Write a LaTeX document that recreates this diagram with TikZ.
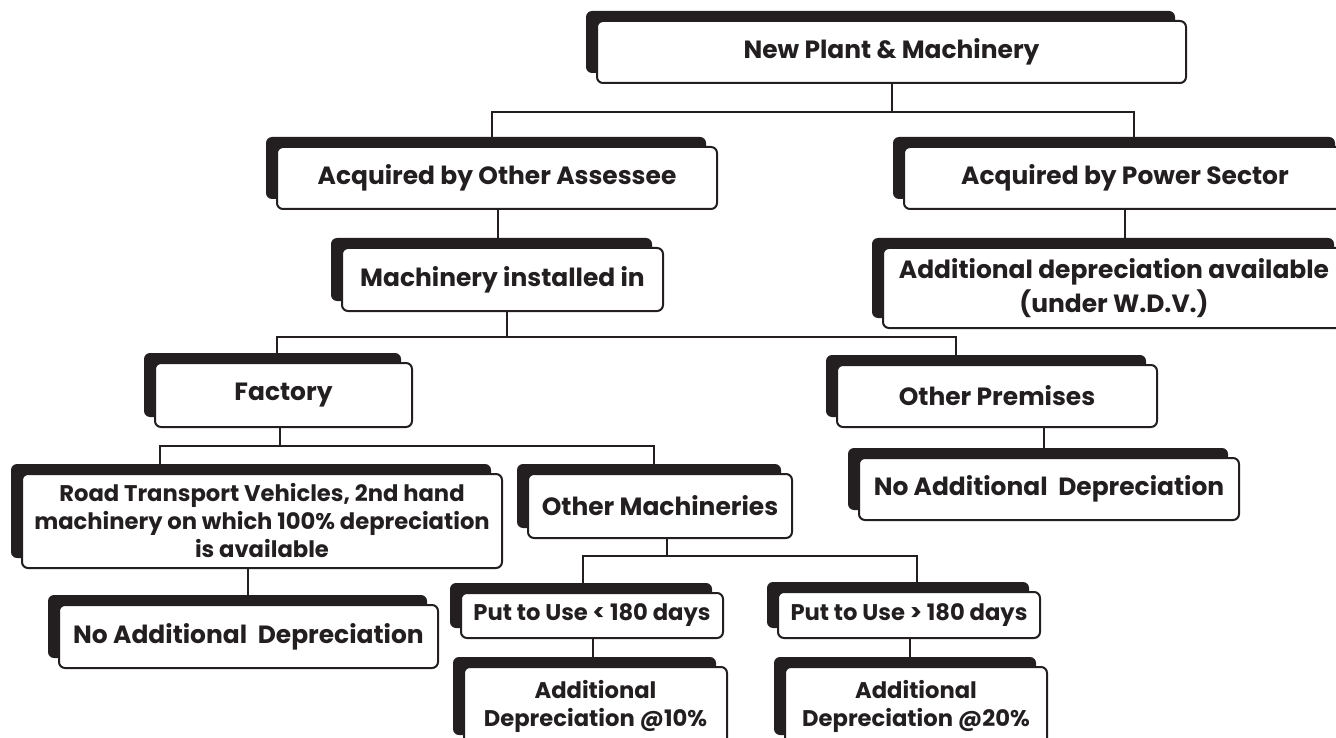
\documentclass[tikz,border=0pt]{standalone}
\usepackage{fontspec}
\setmainfont{Poppins}
\usetikzlibrary{shadows,calc}
\definecolor{ink}{HTML}{231F20}
\tikzset{
  box/.style={draw=ink, fill=white, line width=1.5pt, rounded corners=4.5pt,
    inner sep=0pt, align=center, text=ink,
    font=\bfseries\fontsize{18.7}{26}\selectfont,
    drop shadow={opacity=1, fill=ink, shadow xshift=-8.25pt, shadow yshift=7.5pt}},
  smallbox/.style={box, font=\bfseries\fontsize{17}{21}\selectfont},
  sz/.style 2 args={minimum width=#1*0.75pt, minimum height=#2*0.75pt},
  link/.style={draw=ink, line width=1.5pt}
}
\begin{document}
\begin{tikzpicture}[x=0.75pt,y=-0.75pt]
\useasboundingbox (0,0) rectangle (1336,738);

% boxes
\node[box, sz={589}{62}] (b1) at (891.5,52) {New Plant \& Machinery};
\node[box, sz={440}{62}] (b2) at (497,178) {Acquired by Other Assessee};
\node[box, sz={442}{62}] (b3) at (1125,178) {Acquired by Power Sector};
\node[box, sz={321}{63}] (b4) at (502.5,279.5) {Machinery installed in};
\node[box, sz={462}{80}] (b5) at (1114,288) {Additional depreciation available\\(under W.D.V.)};
\node[box, sz={257}{64}] (b6) at (283.5,395) {Factory};
\node[box, sz={320}{62}] (b7) at (997,396) {Other Premises};
\node[smallbox, sz={480}{94}] (b8) at (262,521) {Road Transport Vehicles, 2nd hand\\machinery on which 100\% depreciation\\is available};
\node[box, sz={264}{64}] (b9) at (660,506) {Other Machineries};
\node[box, sz={380}{62}] (b10) at (1049,489) {No Additional~~Depreciation};
\node[box, sz={379}{63}] (b11) at (248.5,636.5) {No Additional~~Depreciation};
\node[smallbox, sz={262}{45}] (b12) at (592,615.5) {Put to Use < 180 days};
\node[smallbox, sz={262}{46}] (b13) at (909,615) {Put to Use > 180 days};
\node[smallbox, sz={263}{78}] (b14) at (595.5,706) {Additional\\Depreciation @10\%};
\node[smallbox, sz={262}{78}] (b15) at (916,706) {Additional\\Depreciation @20\%};

% junction points of the tree
\coordinate (t1) at (492,112);  \coordinate (t2) at (1134,112);
\coordinate (t3) at (277,337);  \coordinate (t4) at (956,337);
\coordinate (t5) at (160,446);  \coordinate (t6) at (654,446);
\coordinate (t7) at (583,556);  \coordinate (t8) at (917,556);
\coordinate (v24) at (498,0);   \coordinate (v35) at (1125,0);
\coordinate (v4) at (507,0);    \coordinate (v6) at (280,0);
\coordinate (v8) at (248,0);    \coordinate (v7) at (1044,0);
\coordinate (v9) at (667,0);    \coordinate (v12) at (593,0);
\coordinate (v13) at (910,0);

% connectors
\draw[link] (b1.south) -- (b1.south |- t1);
\draw[link] (t1 |- b2.north) -- (t1) -- (t2) -- (t2 |- b3.north);
\draw[link] (v24 |- b2.south) -- (v24 |- b4.north);
\draw[link] (v35 |- b3.south) -- (v35 |- b5.north);
\draw[link] (v4 |- b4.south) -- (v4 |- t3);
\draw[link] (t3 |- b6.north) -- (t3) -- (t4) -- (t4 |- b7.north);
\draw[link] (v6 |- b6.south) -- (v6 |- t5);
\draw[link] (t5 |- b8.north) -- (t5) -- (t6) -- (t6 |- b9.north);
\draw[link] (v8 |- b8.south) -- (v8 |- b11.north);
\draw[link] (v7 |- b7.south) -- (v7 |- b10.north);
\draw[link] (v9 |- b9.south) -- (v9 |- t7);
\draw[link] (t7 |- b12.north) -- (t7) -- (t8) -- (t8 |- b13.north);
\draw[link] (v12 |- b12.south) -- (v12 |- b14.north);
\draw[link] (v13 |- b13.south) -- (v13 |- b15.north);
\end{tikzpicture}
\end{document}
